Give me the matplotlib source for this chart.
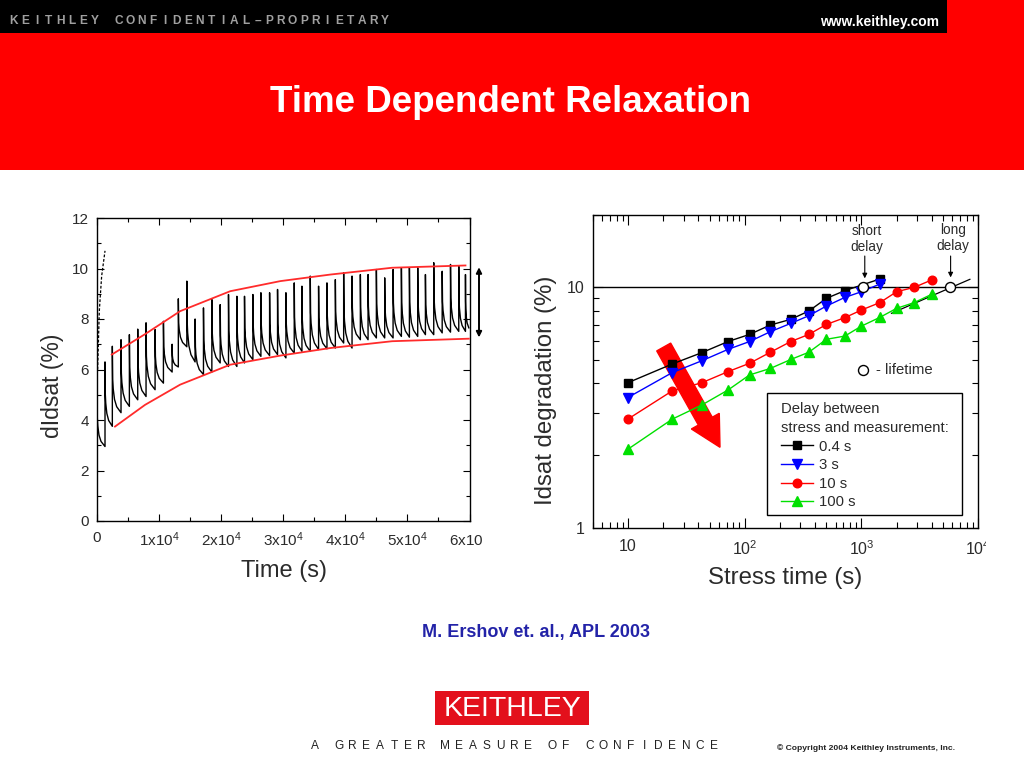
import matplotlib
matplotlib.use('Agg')
import matplotlib.pyplot as plt
from matplotlib.patches import Rectangle, FancyArrow
from matplotlib.transforms import Affine2D
from matplotlib.ticker import FixedLocator, NullFormatter

plt.rcParams['font.family'] = ['Liberation Sans', 'DejaVu Sans']
plt.rcParams['mathtext.fontset'] = 'custom'
plt.rcParams['mathtext.rm'] = 'Liberation Sans'
plt.rcParams['mathtext.it'] = 'Liberation Sans:italic'
plt.rcParams['mathtext.bf'] = 'Liberation Sans:bold'

# ---------------- left panel data (dIdsat vs time) ----------------
spike_t = [0, 1290, 2470, 3870, 5215, 6560, 7900, 9355, 10700, 12100,
           13100, 14470, 15800, 17150, 18500, 19840, 21180, 22530, 23760, 25110,
           26400, 27800, 29080, 30430, 31770, 33010, 34350, 35690, 37040, 38390,
           39730, 41080, 42420, 43660, 45000, 46340, 47690, 49030, 50320, 51660,
           52900, 54240, 55600, 56940, 58270, 59350]
spike_peak = [5.2, 6.3, 6.92, 7.18, 7.38, 7.6, 7.85, 7.58, 7.91, 7.0,
              8.8, 9.5, 8.0, 8.44, 8.77, 8.57, 8.97, 8.9, 8.9, 8.97,
              9.04, 9.04, 9.17, 9.04, 9.43, 9.3, 9.7, 9.3, 9.43, 9.56,
              9.83, 9.7, 9.76, 9.76, 9.96, 9.63, 9.96, 10.03, 10.03, 10.03,
              9.76, 10.23, 9.89, 10.16, 10.09, 9.76]
spike_trough = [2.95, 3.75, 4.29, 4.54, 4.8, 4.93, 5.2, 5.46, 5.9, 6.1,
                6.9, 6.3, 5.8, 5.9, 6.26, 6.12, 6.12, 6.26, 6.39, 6.52,
                6.55, 6.59, 6.46, 6.65, 6.72, 6.72, 6.79, 6.82, 6.85, 7.05,
                6.85, 7.18, 7.18, 7.25, 7.25, 7.25, 7.31, 7.28, 7.31, 7.38,
                7.38, 7.45, 7.48, 7.51, 7.51, 7.65]
trace_end_t = 59890
dash_t = [100, 370, 500, 750, 1290]
dash_v = [6.0, 8.3, 8.8, 9.7, 10.7]
upper_t = [2370, 7740, 13390, 21450, 29520, 37580, 47530, 59350]
upper_v = [6.59, 7.4, 8.31, 9.1, 9.5, 9.76, 10.03, 10.12]
lower_t = [2900, 7740, 13390, 21450, 29520, 37580, 47530, 59890]
lower_v = [3.74, 4.6, 5.4, 6.19, 6.55, 6.85, 7.12, 7.22]
range_lo, range_hi = 7.27, 10.05
left_xticks = [0, 10000, 20000, 30000, 40000, 50000, 60000]
left_xticklabels = ['0', '1x10$^{4}$', '2x10$^{4}$', '3x10$^{4}$',
                    '4x10$^{4}$', '5x10$^{4}$', '6x10$^{4}$']
left_yticks = [0, 2, 4, 6, 8, 10, 12]

# ---------------- right panel data (Idsat degradation vs stress time) ----------------
t_04 = [10, 24, 43, 72, 110, 166, 248, 354, 501, 720, 1436]
d_04 = [4.01, 4.80, 5.35, 5.95, 6.37, 6.97, 7.36, 7.97, 9.0, 9.69, 10.83]
t_3 = [10, 24, 43, 72, 110, 166, 248, 354, 501, 720, 1000, 1436]
d_3 = [3.48, 4.42, 4.95, 5.52, 5.95, 6.54, 7.08, 7.62, 8.36, 9.08, 9.59, 10.32]
t_10 = [10, 24, 43, 72, 110, 166, 248, 354, 501, 720, 1000, 1436, 2000, 2825, 3980]
d_10 = [2.83, 3.71, 4.01, 4.46, 4.83, 5.37, 5.95, 6.37, 7.01, 7.48, 8.05, 8.64, 9.59, 10.0, 10.73]
t_100 = [10, 24, 43, 72, 110, 166, 248, 354, 501, 720, 1000, 1436, 2000, 2825, 3980]
d_100 = [2.12, 2.83, 3.24, 3.74, 4.32, 4.60, 5.01, 5.37, 6.08, 6.27, 6.90, 7.50, 8.18, 8.64, 9.35]
series_labels = ['0.4 s', '3 s', '10 s', '100 s']
extrap_t = [1807, 8470]
extrap_v = [7.8, 10.8]
criterion = 10
lifetime_t = [1033, 5715]
lifetime_v = [10.0, 10.0]
right_xticks = [10, 100, 1000, 10000]
right_xticklabels = ['10', '10$^{2}$', '10$^{3}$', '10$^{4}$']
right_yticks = [1, 10]
right_yticklabels = ['1', '10']

# shape of one relaxation cycle (fraction of cycle, fraction of spike height)
CYCLE_SHAPE = [(0.0, 1.0), (0.04, 0.5), (0.1, 0.36), (0.25, 0.2), (0.5, 0.09), (1.0, 0.0)]

W, H = 1024, 768
fig = plt.figure(figsize=(W / 100, H / 100), dpi=100, facecolor='white')
px = Affine2D().scale(1 / W, -1 / H).translate(0, 1) + fig.transFigure


def frect(l, t, r, b):
    return [l / W, 1 - b / H, (r - l) / W, (b - t) / H]


TXT = '#2b2b2b'

# ================= left panel =================
ax1 = fig.add_axes(frect(97, 218, 469.5, 521))
ax1.set_xlim(0, 60000)
ax1.set_ylim(0, 12)
tx, ty = [], []
ends = spike_t[1:] + [trace_end_t]
for i, (t0, pk, tr, t1) in enumerate(zip(spike_t, spike_peak, spike_trough, ends)):
    if i > 0:
        tx.append(t0)
        ty.append(spike_trough[i - 1])
    for ft, fv in CYCLE_SHAPE:
        tx.append(t0 + ft * (t1 - t0))
        ty.append(tr + fv * (pk - tr))
ax1.plot(tx, ty, color='black', lw=1.0, zorder=2)
ax1.plot(dash_t, dash_v, color='black', lw=0.9, dashes=(2.2, 1.4), zorder=2)
ax1.plot(upper_t, upper_v, color='#ff2b2b', lw=1.3, zorder=3)
ax1.plot(lower_t, lower_v, color='#ff2b2b', lw=1.3, zorder=3)
ax1.annotate('', xy=(1.0255, range_hi), xytext=(1.0255, range_lo),
             xycoords=('axes fraction', 'data'), textcoords=('axes fraction', 'data'),
             arrowprops=dict(arrowstyle='<|-|>', color='black', lw=1.4,
                             mutation_scale=8, shrinkA=0, shrinkB=0),
             annotation_clip=False)
ax1.set_xticks(left_xticks)
ax1.set_xticklabels(left_xticklabels)
ax1.set_yticks(left_yticks)
ax1.xaxis.set_minor_locator(FixedLocator([5000, 15000, 25000, 35000, 45000, 55000]))
ax1.yaxis.set_minor_locator(FixedLocator([1, 3, 5, 7, 9, 11]))
ax1.tick_params(which='both', direction='in', top=True, right=True, width=0.8,
                labelsize=11, labelcolor=TXT)
ax1.tick_params(which='major', length=5)
ax1.tick_params(which='minor', length=3)
ax1.tick_params(axis='x', pad=7)
ax1.tick_params(axis='y', pad=6)
for s in ax1.spines.values():
    s.set_linewidth(1.0)
fig.text(52.3, 385.7, 'dIdsat (%)', transform=px, rotation=90, ha='center', va='center',
         fontsize=16.5, color=TXT)
fig.text(284, 571, 'Time (s)', transform=px, ha='center', va='center', fontsize=17, color=TXT)

# ================= right panel =================
ax2 = fig.add_axes(frect(592.7, 215, 978.3, 527.7))
ax2.set_xscale('log')
ax2.set_yscale('log')
ax2.set_xlim(5, 10000)
ax2.set_ylim(1, 20)
ax2.axhline(criterion, color='black', lw=1.0, zorder=1.8)
h1, = ax2.plot(t_04, d_04, '-s', color='black', ms=5.6, lw=1.0, zorder=3)
h2, = ax2.plot(t_3, d_3, '-v', color='#0000ff', ms=6.7, lw=1.0, zorder=3)
h3, = ax2.plot(t_10, d_10, '-o', color='#ff0000', ms=6.2, lw=1.0, zorder=3)
h4, = ax2.plot(t_100, d_100, '-^', color='#00e000', ms=6.7, lw=1.0, zorder=3)
ax2.plot(extrap_t, extrap_v, color='black', lw=0.9, zorder=2.5)
ax2.plot(lifetime_t, lifetime_v, 'o', mfc='white', mec='black', mew=1.0, ms=7.2, zorder=5)

ax2.set_xticks(right_xticks)
ax2.set_xticklabels(right_xticklabels)
ax2.set_yticks(right_yticks)
ax2.set_yticklabels(right_yticklabels)
xminor = [m * 10 ** e for e in range(0, 4) for m in range(2, 10) if 5 <= m * 10 ** e <= 10000]
ax2.xaxis.set_minor_locator(FixedLocator(xminor))
ax2.xaxis.set_minor_formatter(NullFormatter())
ax2.yaxis.set_minor_locator(FixedLocator([2, 3, 4, 5, 6, 7, 8, 9, 20]))
ax2.yaxis.set_minor_formatter(NullFormatter())
ax2.tick_params(which='both', direction='in', top=True, right=True, width=0.8,
                labelsize=11.5, labelcolor=TXT)
ax2.tick_params(which='major', length=7)
ax2.tick_params(which='minor', length=4)
ax2.tick_params(axis='x', pad=8)
ax2.tick_params(axis='y', pad=6)
for s in ax2.spines.values():
    s.set_linewidth(1.0)

# short / long delay notes
ax2.text(1104, 15.85, 'short\ndelay', ha='center', va='center', fontsize=9.8,
         color=TXT, linespacing=1.15)
ax2.annotate('', xy=(1067, 10.9), xytext=(1067, 13.5),
             arrowprops=dict(arrowstyle='-|>', color='black', lw=0.8,
                             mutation_scale=7, shrinkA=0, shrinkB=0))
ax2.text(6026, 16.0, 'long\ndelay', ha='center', va='center', fontsize=9.8,
         color=TXT, linespacing=1.15)
ax2.annotate('', xy=(5794, 11.0), xytext=(5794, 13.5),
             arrowprops=dict(arrowstyle='-|>', color='black', lw=0.8,
                             mutation_scale=7, shrinkA=0, shrinkB=0))

# big red arrow (trend with longer delay)
arr = FancyArrow(663.7, 347, 56.3, 100.3, width=16, head_width=32, head_length=30,
                 length_includes_head=True, color='#ff0000', transform=px, zorder=1.6,
                 clip_on=False)
ax2.add_patch(arr)

# legend
leg = ax2.legend([h1, h2, h3, h4], series_labels,
                 title='Delay between\nstress and measurement:',
                 loc='upper left', bbox_to_anchor=(780.7, 402.5), bbox_transform=px,
                 frameon=False, borderpad=0, borderaxespad=0, fontsize=10.7,
                 title_fontsize=10.7, alignment='left', handlelength=2.2,
                 handletextpad=0.35, labelspacing=0.31, numpoints=1)
for t in leg.get_texts():
    t.set_color(TXT)
leg.get_title().set_color(TXT)
leg.get_title().set_linespacing(1.4)
leg.set_zorder(6)
ax2.add_patch(Rectangle((766.7, 393.3), 195, 121.7, transform=px, fill=False,
                        edgecolor='black', lw=1.0, zorder=6, clip_on=False))

fig.text(546, 390, 'Idsat degradation (%)', transform=px, rotation=90, ha='center',
         va='center', fontsize=17.3, color=TXT)
fig.text(785.5, 578, 'Stress time (s)', transform=px, ha='center', va='center',
         fontsize=17.3, color=TXT)

# ================= slide decoration overlay =================
ov = fig.add_axes([0, 0, 1, 1], zorder=10)
ov.set_xlim(0, W)
ov.set_ylim(H, 0)
ov.axis('off')
ov.patch.set_alpha(0)

ov.add_patch(Rectangle((0, 0), W, 170, color='#ff0000', lw=0))
ov.add_patch(Rectangle((0, 0), 947, 33, color='black', lw=0))


def spaced(x0, y, text, pitch, word_gap, **kw):
    x = x0
    for ch in text:
        if ch == ' ':
            x += word_gap
            continue
        ov.text(x, y, ch, ha='center', va='center', **kw)
        x += pitch


spaced(14, 21, 'KEITHLEY CONFIDENTIAL\u2013PROPRIETARY', 11.6, 11.6,
       fontsize=8.6, fontweight='bold', color='#a0a0a0')
ov.text(939, 22, 'www.keithley.com', ha='right', va='center', fontsize=10,
        fontweight='bold', color='white')
ov.text(511, 103, 'Time Dependent Relaxation', ha='center', va='center',
        fontsize=26.5, fontweight='bold', color='white')

# clip the partially visible end tick labels
ov.add_patch(Rectangle((482.5, 528), 30, 40, color='white', lw=0))
ov.add_patch(Rectangle((986, 534), 38, 30, color='white', lw=0))

# lifetime key
ov.plot([863.3], [370], 'o', mfc='white', mec='black', mew=1.0, ms=7.2)
ov.text(876, 370, '- lifetime', ha='left', va='center', fontsize=10.7, color=TXT)

ov.text(536, 632, 'M. Ershov et. al., APL 2003', ha='center', va='center',
        fontsize=13, fontweight='bold', color='#2323a8')

ov.add_patch(Rectangle((435, 691), 154, 34, color='#e3101c', lw=0))
ov.text(512, 708.5, 'KEITHLEY', ha='center', va='center', fontsize=20.5,
        color='white')
spaced(315, 746, 'A GREATER MEASURE OF CONFIDENCE', 13.8, 10,
       fontsize=8.6, color='#222222')
ov.text(777, 748, '\u00a9 Copyright 2004 Keithley Instruments, Inc.', ha='left',
        va='center', fontsize=6.1, fontweight='bold', color='#222222')

fig.savefig('out.png', dpi=100, facecolor='white')
